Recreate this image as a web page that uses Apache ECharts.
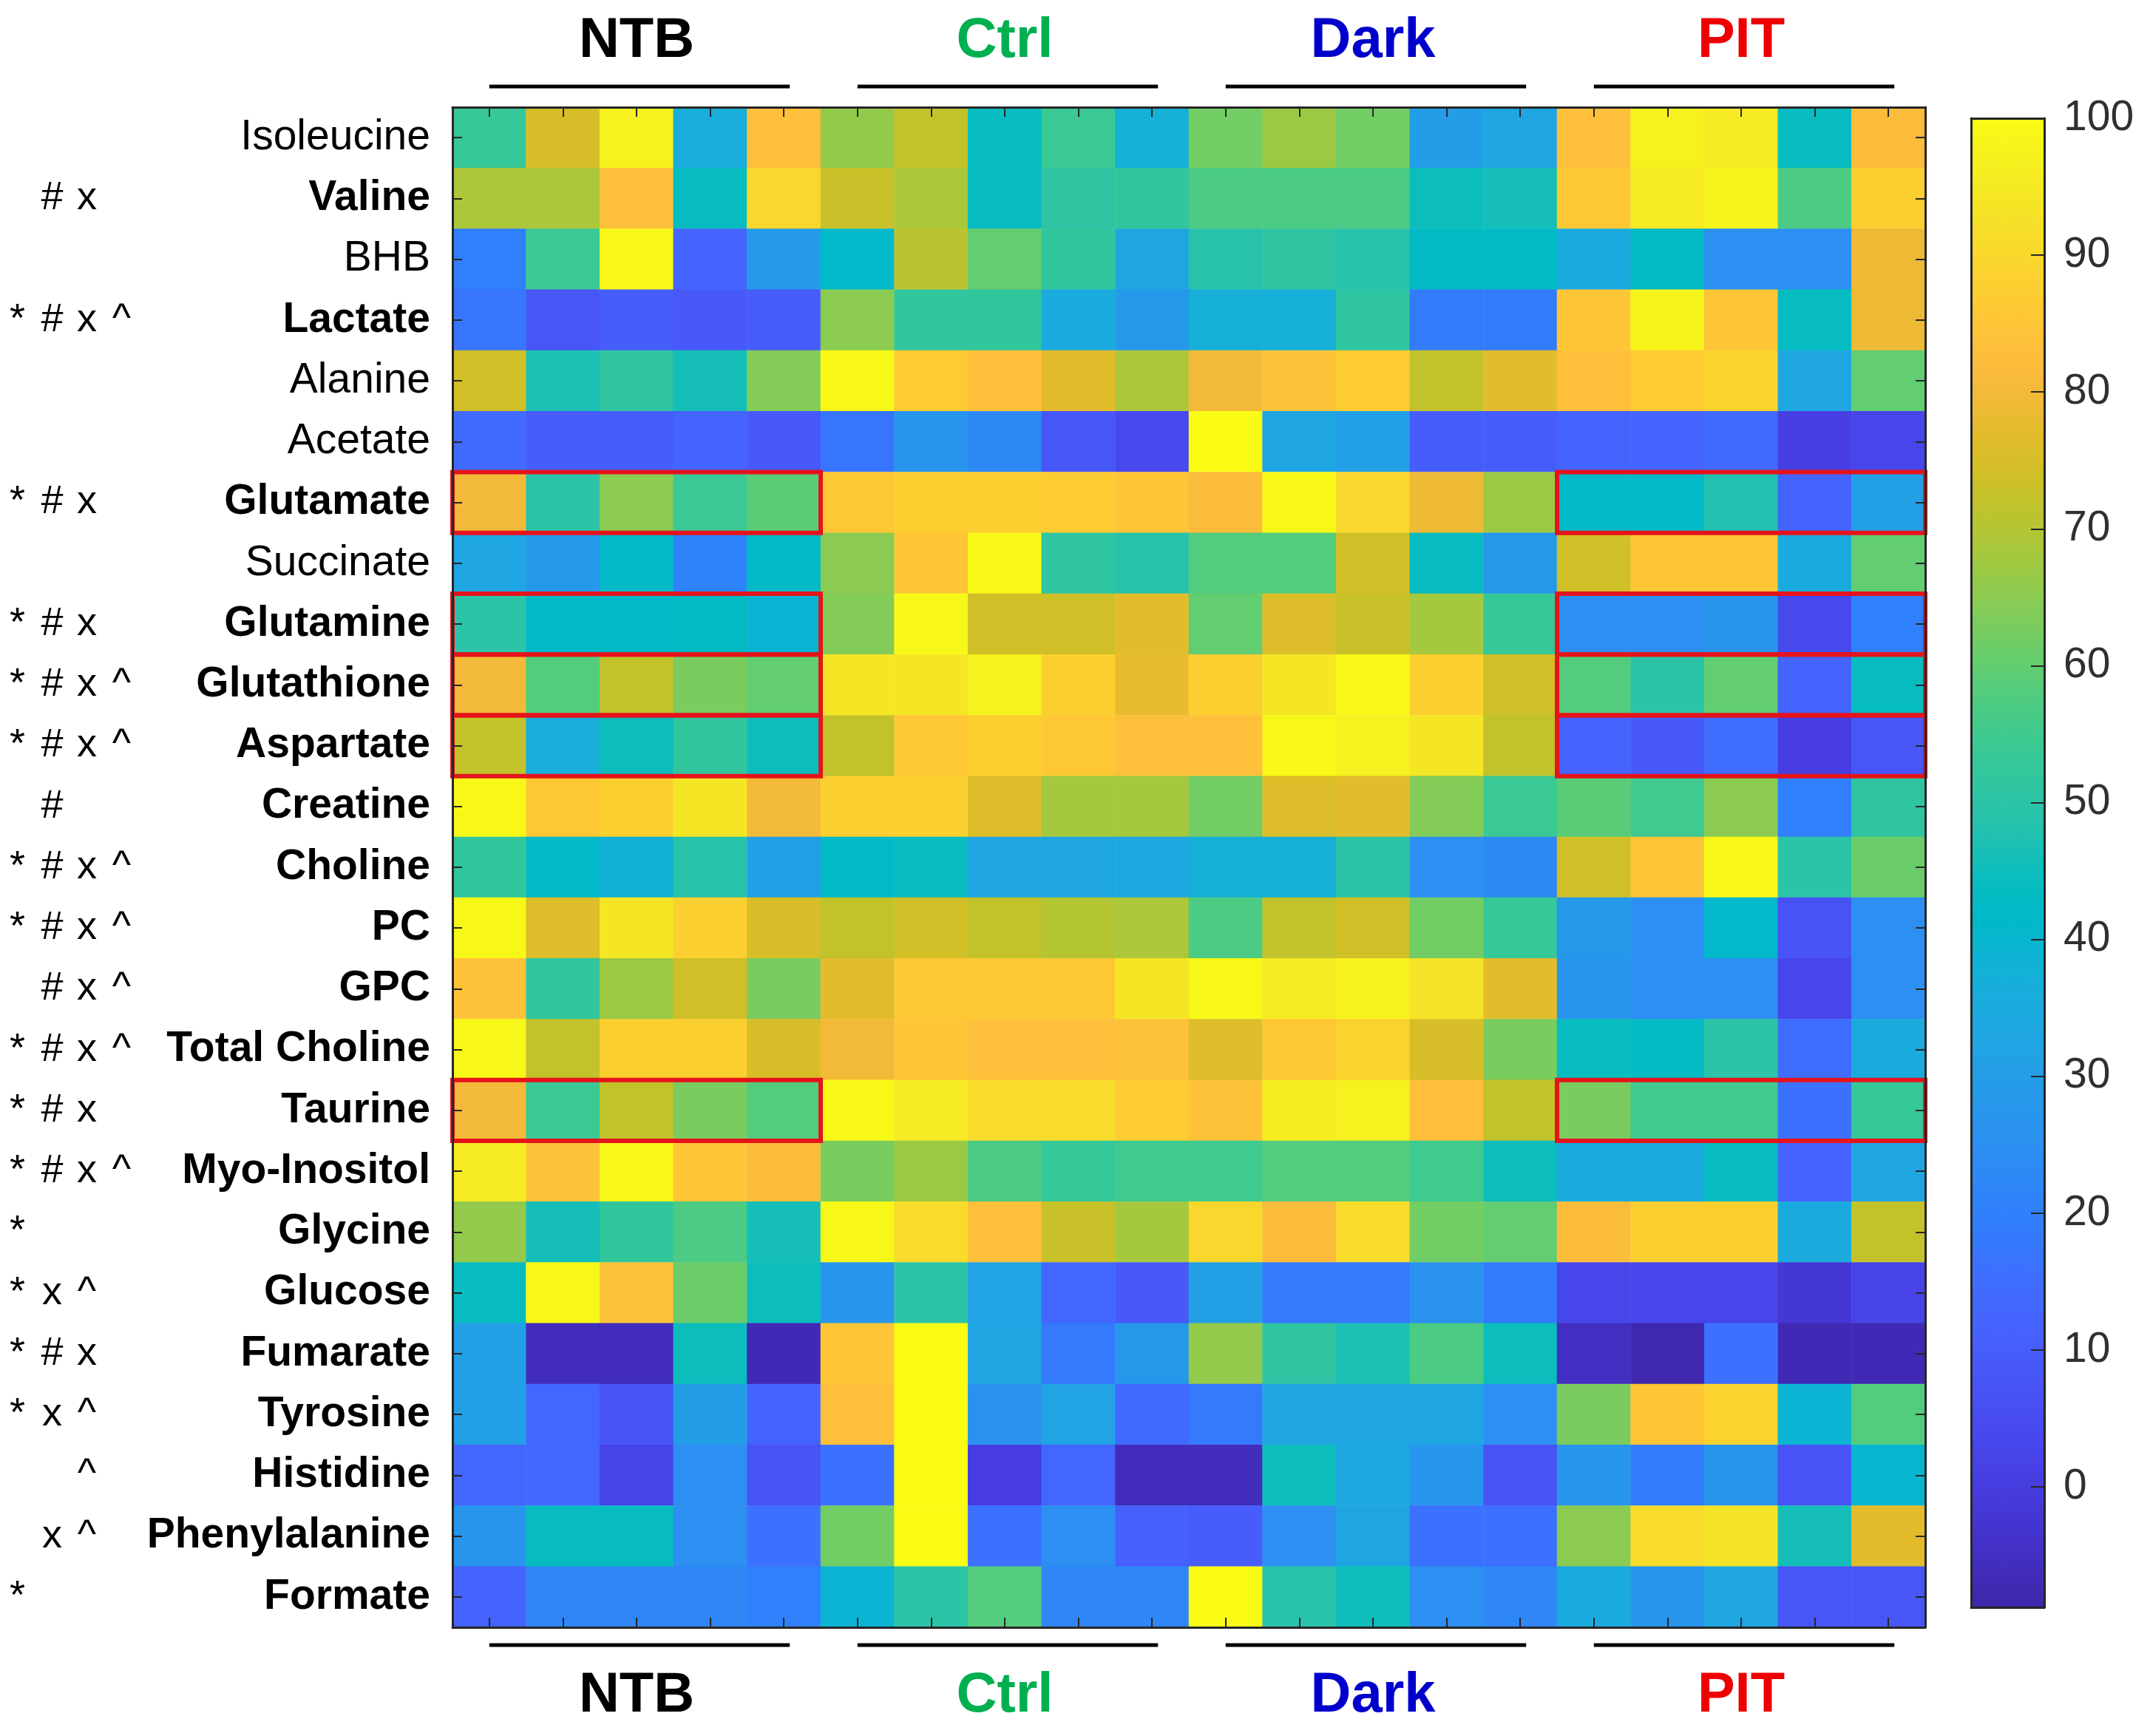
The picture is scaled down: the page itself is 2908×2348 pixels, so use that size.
<!DOCTYPE html>
<html>
<head>
<meta charset="utf-8">
<script src="https://cdn.jsdelivr.net/npm/echarts@6/dist/echarts.min.js"></script>
<style>
  html, body { margin: 0; padding: 0; background: #fff; }
  #chart { width: 2908px; height: 2348px; }
</style>
</head>
<body>
<div id="chart"></div>
<script>
// rows (top to bottom)
const metabolites = ['Isoleucine', 'Valine', 'BHB', 'Lactate', 'Alanine', 'Acetate', 'Glutamate',
  'Succinate', 'Glutamine', 'Glutathione', 'Aspartate', 'Creatine', 'Choline', 'PC', 'GPC',
  'Total Choline', 'Taurine', 'Myo-Inositol', 'Glycine', 'Glucose', 'Fumarate', 'Tyrosine',
  'Histidine', 'Phenylalanine', 'Formate']
const plainNames = ['Isoleucine', 'BHB', 'Alanine', 'Acetate', 'Succinate']
// significance markers, one slot each for * # x ^
const markers = ['    ', ' #x ', '    ', '*#x^', '    ', '    ', '*#x ', '    ', '*#x ', '*#x^',
  '*#x^', ' #  ', '*#x^', '*#x^', ' #x^', '*#x^', '*#x ', '*#x^', '*   ', '*x^ ', '*#x ',
  '*x^ ', '  ^ ', ' x^ ', '*   ']
const groups = ['NTB', 'Ctrl', 'Dark', 'PIT']
const columns = groups.flatMap(g => [1, 2, 3, 4, 5].map(i => g + i))
const colorbarTicks = [0, 10, 20, 30, 40, 50, 60, 70, 80, 90, 100]
const colorMin = -8.8
const colorMax = 100
// red boxes: rows x groups
const boxRows = ['Glutamate', 'Glutamine', 'Glutathione', 'Aspartate', 'Taurine']
const boxGroups = ['NTB', 'PIT']

// values per metabolite, NTB1-5, Ctrl1-5, Dark1-5, PIT1-5
const isoleucine = [53, 75, 97, 36, 83, 66, 72, 44, 54, 37, 62, 67, 62, 30, 33, 83, 97, 95, 44, 82]
const valine = [69, 69, 83, 44, 90, 73, 69, 44, 51, 52, 57, 57, 57, 45, 46, 86, 95, 98, 57, 88]
const bhb = [20, 54, 99, 12, 29, 41, 71, 60, 52, 33, 49, 51, 49, 43, 43, 35, 43, 25, 25, 79]
const lactate = [17, 8, 10, 9, 10, 65, 52, 52, 35, 28, 37, 37, 51, 19, 19, 85, 98, 85, 44, 79]
const alanine = [74, 47, 51, 46, 64, 99, 87, 83, 77, 69, 80, 84, 87, 72, 77, 83, 87, 89, 33, 60]
const acetate = [14, 10, 10, 12, 9, 17, 27, 23, 8, 4, 100, 33, 31, 10, 10, 12, 12, 14, 1, 3]
const glutamate = [80, 50, 65, 54, 59, 86, 88, 88, 87, 85, 82, 99, 90, 79, 67, 42, 42, 48, 12, 31]
const succinate = [33, 28, 42, 21, 42, 65, 85, 99, 51, 49, 58, 58, 74, 44, 28, 74, 85, 85, 35, 60]
const glutamine = [50, 42, 42, 43, 39, 64, 99, 74, 74, 77, 60, 76, 73, 68, 53, 25, 25, 27, 4, 20]
const glutathione = [80, 58, 72, 63, 60, 94, 94, 97, 88, 78, 88, 94, 99, 88, 74, 58, 50, 60, 12, 44]
const aspartate = [72, 36, 45, 52, 45, 72, 86, 88, 86, 83, 83, 99, 97, 94, 72, 12, 9, 15, 0, 8]
const creatine = [99, 86, 88, 94, 80, 88, 88, 76, 68, 68, 62, 76, 77, 64, 54, 59, 55, 65, 20, 51]
const choline = [52, 42, 38, 49, 31, 42, 44, 33, 33, 34, 37, 37, 50, 25, 23, 74, 85, 99, 50, 61]
const pc = [99, 76, 94, 88, 75, 72, 74, 72, 70, 69, 57, 72, 74, 62, 53, 28, 25, 41, 7, 25]
const gpc = [84, 52, 67, 74, 63, 77, 86, 86, 86, 94, 99, 95, 97, 93, 77, 27, 25, 25, 3, 25]
const totalCholine = [99, 72, 88, 88, 75, 80, 85, 83, 83, 84, 76, 86, 89, 75, 63, 44, 43, 50, 15, 35]
const taurine = [80, 54, 72, 63, 58, 99, 95, 91, 91, 87, 84, 96, 97, 83, 72, 63, 55, 55, 16, 53]
const myoInositol = [95, 84, 99, 85, 82, 63, 67, 57, 53, 55, 55, 58, 58, 55, 45, 35, 35, 44, 12, 33]
const glycine = [66, 46, 52, 57, 46, 99, 91, 83, 73, 68, 90, 82, 91, 62, 60, 82, 88, 88, 35, 72]
const glucose = [44, 99, 84, 61, 45, 27, 50, 32, 13, 9, 31, 18, 18, 26, 19, 3, 3, 3, -2, 2]
const fumarate = [31, -6, -6, 45, -7, 85, 100, 33, 18, 28, 66, 51, 47, 57, 45, -5, -8, 16, -7, -7]
const tyrosine = [31, 13, 7, 30, 12, 83, 100, 26, 32, 14, 18, 33, 33, 33, 25, 63, 85, 89, 39, 58]
const histidine = [13, 13, 2, 25, 7, 16, 100, 0, 13, -6, -6, 45, 34, 27, 7, 27, 19, 27, 7, 40]
const phenylalanine = [27, 44, 44, 25, 16, 62, 100, 16, 25, 11, 10, 25, 33, 16, 16, 65, 91, 93, 46, 77]
const formate = [12, 22, 22, 22, 20, 39, 50, 58, 22, 22, 100, 49, 45, 25, 22, 35, 27, 33, 8, 8]

const rows = [isoleucine, valine, bhb, lactate, alanine, acetate, glutamate, succinate, glutamine,
  glutathione, aspartate, creatine, choline, pc, gpc, totalCholine, taurine, myoInositol, glycine,
  glucose, fumarate, tyrosine, histidine, phenylalanine, formate]

// parula colormap
const parula = ['#3E26A8', '#402AB4', '#422EC0', '#4332CB', '#4537D5', '#463CDE', '#4741E5', '#4747EB',
  '#484DF0', '#4852F4', '#4758F8', '#465EFB', '#4563FD', '#4269FE', '#3E6FFF', '#3875FE', '#327CFC',
  '#2F81FA', '#2E87F7', '#2D8CF3', '#2B91EF', '#2796EB', '#259BE8', '#23A0E5', '#20A5E3', '#1CA9DF',
  '#18ADDB', '#12B1D6', '#08B5D0', '#01B8CA', '#02BAC3', '#0BBDBD', '#19BFB6', '#24C1AE', '#2CC4A7',
  '#31C69F', '#37C897', '#3FCA8E', '#4ACB84', '#57CC7A', '#64CD6F', '#72CD64', '#81CC59', '#8FCB4E',
  '#9DC943', '#ABC739', '#B9C431', '#C5C22A', '#D1BF27', '#DCBD29', '#E6BB2D', '#F0BA36', '#F8BA3D',
  '#FEBE3C', '#FEC338', '#FEC934', '#FCCF30', '#FAD62D', '#F7DC2A', '#F5E327', '#F5E924', '#F6EF20',
  '#F7F51B', '#F9FB15']
const groupColors = ['#000000', '#00B050', '#0000CC', '#EE0000']
const axisColor = '#262626'
const font = '"Liberation Sans", Arial, sans-serif'

const heatData = []
rows.forEach((vals, r) => vals.forEach((v, c) => heatData.push([c, r, v])))

const boxData = []
boxRows.forEach(name => {
  const r = metabolites.indexOf(name)
  boxGroups.forEach(g => {
    const c0 = groups.indexOf(g) * 5
    boxData.push([c0, r, c0 + 4])
  })
})

const frameAxis = {
  axisLine: { show: true, lineStyle: { color: axisColor, width: 3 } },
  axisTick: { show: true, inside: true, alignWithLabel: true, length: 13, lineStyle: { color: axisColor, width: 2 } },
  axisLabel: { show: false },
  splitLine: { show: false },
  z: 10,
}

const chart = echarts.init(document.getElementById('chart'))
chart.setOption({
  backgroundColor: '#fff',
  animation: false,
  grid: [
    { left: 612, top: 145, width: 1992, height: 2056 },
    { left: 2666, top: 160, width: 99, height: 2014 },
  ],
  xAxis: [
    { type: 'category', gridIndex: 0, data: columns, position: 'bottom', ...frameAxis },
    { type: 'category', gridIndex: 0, data: columns, position: 'top', ...frameAxis },
    { type: 'value', gridIndex: 1, min: 0, max: 1, position: 'bottom', axisLine: { show: true, onZero: false, lineStyle: { color: axisColor, width: 3 } }, axisTick: { show: false }, axisLabel: { show: false }, splitLine: { show: false }, z: 10 },
    { type: 'value', gridIndex: 1, min: 0, max: 1, position: 'top', axisLine: { show: true, onZero: false, lineStyle: { color: axisColor, width: 3 } }, axisTick: { show: false }, axisLabel: { show: false }, splitLine: { show: false }, z: 10 },
  ],
  yAxis: [
    {
      type: 'category', gridIndex: 0, data: metabolites, inverse: true, position: 'left',
      ...frameAxis,
      axisLabel: {
        show: true,
        margin: 30,
        formatter: v => (plainNames.includes(v) ? '{n|' : '{b|') + v + '}',
        rich: {
          b: { fontFamily: font, fontSize: 57, fontWeight: 'bold', color: '#000' },
          n: { fontFamily: font, fontSize: 57, color: '#000' },
        },
      },
    },
    { type: 'category', gridIndex: 0, data: metabolites, inverse: true, position: 'right', ...frameAxis },
    {
      type: 'category', gridIndex: 0, data: metabolites, inverse: true, position: 'left',
      axisLine: { show: false }, axisTick: { show: false }, splitLine: { show: false },
      axisLabel: {
        show: true,
        margin: 612,
        align: 'left',
        formatter: (v, i) => markers[i].split('').map(ch => '{s|' + (ch === ' ' ? '' : ch) + '}').join(''),
        rich: { s: { fontFamily: font, fontSize: 54, color: '#000', width: 47, align: 'center' } },
      },
    },
    {
      type: 'value', gridIndex: 1, min: colorMin, max: colorMax, position: 'right',
      axisLine: { show: true, onZero: false, lineStyle: { color: axisColor, width: 3 } },
      axisTick: { show: true, inside: true, length: 18, customValues: colorbarTicks, lineStyle: { color: axisColor, width: 2 } },
      axisLabel: { show: true, margin: 26, customValues: colorbarTicks, fontFamily: font, fontSize: 57, color: '#303030' },
      splitLine: { show: false },
      z: 10,
    },
    {
      type: 'value', gridIndex: 1, min: colorMin, max: colorMax, position: 'left',
      axisLine: { show: true, onZero: false, lineStyle: { color: axisColor, width: 3 } },
      axisTick: { show: false }, axisLabel: { show: false }, splitLine: { show: false },
      z: 10,
    },
  ],
  visualMap: {
    type: 'continuous',
    seriesIndex: 0,
    min: colorMin,
    max: colorMax,
    orient: 'vertical',
    left: 2666,
    top: 160,
    itemWidth: 99,
    itemHeight: 2014,
    padding: 0,
    calculable: false,
    hoverLink: false,
    inRange: { color: parula },
  },
  series: [
    {
      type: 'heatmap',
      xAxisIndex: 0,
      yAxisIndex: 0,
      data: heatData,
      itemStyle: { borderWidth: 0 },
      emphasis: { disabled: true },
      progressive: 0,
    },
    {
      type: 'custom',
      xAxisIndex: 0,
      yAxisIndex: 0,
      data: boxData,
      z: 5,
      renderItem: (params, api) => {
        const p = api.coord([api.value(0), api.value(1)])
        const size = api.size([1, 1])
        const n = api.value(2) - api.value(0) + 1
        return {
          type: 'rect',
          shape: { x: p[0] - size[0] / 2, y: p[1] - size[1] / 2, width: size[0] * n, height: size[1] },
          style: { fill: 'none', stroke: '#E5131B', lineWidth: 6 },
        }
      },
    },
  ],
})

// group labels and bars above and below the map
const graphics = []
groups.forEach((g, i) => {
  const x0 = chart.convertToPixel({ xAxisIndex: 0 }, i * 5)
  const x1 = chart.convertToPixel({ xAxisIndex: 0 }, i * 5 + 4)
  const xc = (x0 + x1) / 2;
  [[56, 117], [2294, 2225]].forEach(([ty, ly]) => {
    graphics.push({
      type: 'text', x: xc, y: ty,
      style: { text: g, fill: groupColors[i], font: 'bold 76px ' + font, align: 'center', verticalAlign: 'middle', textAlign: 'center', textVerticalAlign: 'middle' },
    })
    graphics.push({
      type: 'line', shape: { x1: x0, y1: ly, x2: x1 + 8, y2: ly },
      style: { stroke: '#000', lineWidth: 5 },
    })
  })
})
chart.setOption({ graphic: graphics })
</script>
</body>
</html>
